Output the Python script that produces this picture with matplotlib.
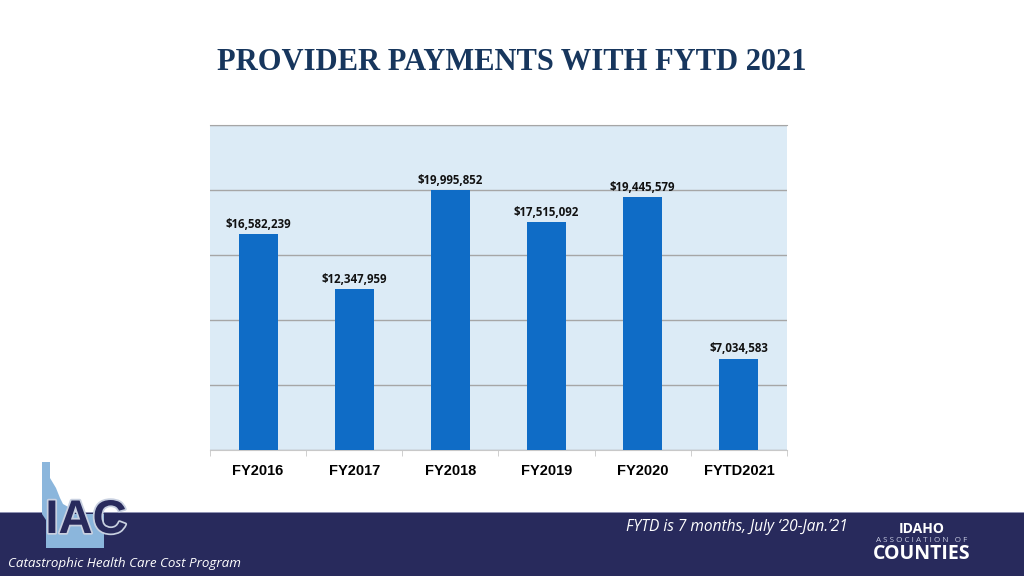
import matplotlib
matplotlib.use("Agg")
import matplotlib.pyplot as plt
from matplotlib.patches import Rectangle, Polygon
import matplotlib.patheffects as pe

categories = ["FY2016", "FY2017", "FY2018", "FY2019", "FY2020", "FYTD2021"]
payments = [16582239, 12347959, 19995852, 17515092, 19445579, 7034583]
y_ticks = [0, 5000000, 10000000, 15000000, 20000000, 25000000]

fig = plt.figure(figsize=(10.24, 5.76), dpi=100)
fig.patch.set_facecolor("white")

# bottom banner
fig.patches.append(Rectangle((0, 0), 1, 64 / 576, transform=fig.transFigure,
                             facecolor="#282a5c", edgecolor="none", zorder=0))
fig.patches.append(Rectangle((0, 63 / 576), 1, 1.5 / 576, transform=fig.transFigure,
                             facecolor="#8f92b3", edgecolor="none", zorder=0))

ax = fig.add_axes([210 / 1024, 1 - 450 / 576, 577 / 1024, 325 / 576])
ax.set_facecolor("#dcebf6")
x = list(range(len(categories)))
ax.bar(x, payments, width=0.405, color="#0f6cc6", zorder=3)
ax.set_xlim(-0.5, len(categories) - 0.5)
ax.set_ylim(0, 25000000)
ax.set_yticks(y_ticks)
ax.yaxis.grid(True, color="#a6a6a6", linewidth=1.0, zorder=1)
ax.tick_params(axis="y", left=False, labelleft=False)
for s in ["left", "right"]:
    ax.spines[s].set_visible(False)
ax.spines["top"].set_color("#a6a6a6")
ax.spines["bottom"].set_color("#c8c8c8")
ax.set_xticks(x)
ax.set_xticklabels(categories, fontfamily="Liberation Sans", fontweight="bold",
                   fontsize=10.5, color="black")
ax.tick_params(axis="x", length=0, pad=10)
ax.set_xticks([i + 0.5 for i in range(-1, len(categories))], minor=True)
ax.tick_params(axis="x", which="minor", length=4, color="#c8c8c8", direction="out")

for xi, v in zip(x, payments):
    ax.annotate(f"${v:,.0f}", (xi, v), xytext=(0, 2.5), textcoords="offset points",
                ha="center", va="bottom", fontfamily="Open Sans", fontweight="bold",
                fontsize=8.3, color="#111111", zorder=4)

fig.text(512 / 1024, 1 - 63 / 576, "PROVIDER PAYMENTS WITH FYTD 2021",
         ha="center", va="center", fontfamily="Liberation Serif", fontweight="bold",
         fontsize=22, color="#17365d")

# logo: Idaho shape + IAC
idaho = [(42, 462), (50, 462), (50, 478), (56, 488), (60, 498), (63, 504), (70, 508),
         (72, 514), (104, 514), (104, 548), (46, 548), (46, 520), (42, 514)]
fig.patches.append(Polygon([(px / 1024, 1 - py / 576) for px, py in idaho],
                           closed=True, transform=fig.transFigure,
                           facecolor="#8bb6dc", edgecolor="none", zorder=1))
fig.text(86 / 1024, 1 - 521 / 576, "IAC", ha="center", va="center",
         fontfamily="Liberation Sans", fontweight="bold", fontsize=34,
         color="#282a5c", zorder=3,
         path_effects=[pe.withStroke(linewidth=2.5, foreground="#c8d0e0")])

fig.text(8 / 1024, 1 - 563 / 576, "Catastrophic Health Care Cost Program",
         ha="left", va="center", fontfamily="Open Sans", style="italic",
         fontsize=9.6, color="white")
fig.text(848 / 1024, 1 - 527 / 576, "FYTD is 7 months, July \u201820-Jan.\u201921",
         ha="right", va="center", fontfamily="Open Sans", style="italic",
         fontsize=11.2, color="white")
fig.text(922 / 1024, 1 - 529 / 576, "IDAHO", ha="center", va="center",
         fontfamily="Open Sans", fontweight="bold", fontsize=10, color="white")
fig.text(922 / 1024, 1 - 541 / 576, "A S S O C I A T I O N   O F", ha="center", va="center",
         fontfamily="Open Sans", fontsize=5.8, color="#c8cce0")
fig.text(922 / 1024, 1 - 554 / 576, "COUNTIES", ha="center", va="center",
         fontfamily="Open Sans", fontweight="bold", fontsize=14, color="white")

fig.savefig("out.png", dpi=100, facecolor=fig.get_facecolor())
